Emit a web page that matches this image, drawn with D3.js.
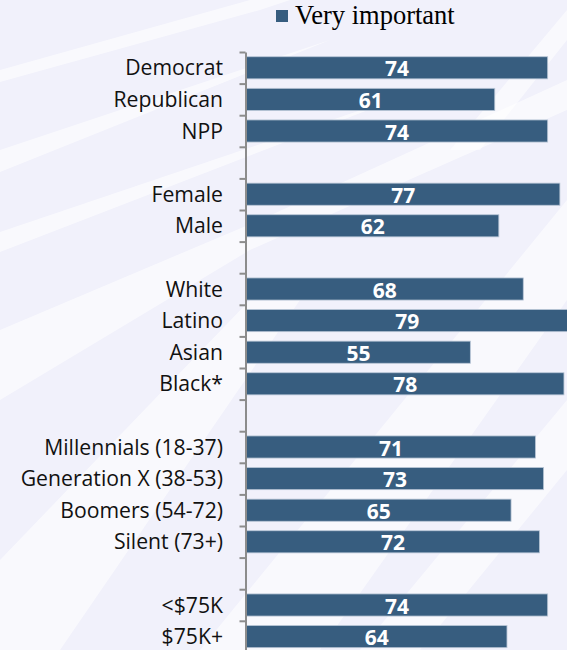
<!DOCTYPE html>
<html>
<head>
<meta charset="utf-8">
<script src="https://cdn.jsdelivr.net/npm/d3@7"></script>
<style>
  html, body { margin: 0; padding: 0; background: #f2f2fb; }
  svg { display: block; }
</style>
</head>
<body>
<svg id="chart" width="567" height="650"></svg>
<script>
// Share saying the issue is "Very important", by group (blank entries separate groups)
const categories = [
  "Democrat", "Republican", "NPP", "",
  "Female", "Male", "",
  "White", "Latino", "Asian", "Black*", "",
  "Millennials (18-37)", "Generation X (38-53)", "Boomers (54-72)", "Silent (73+)", "",
  "<$75K", "$75K+"
];
const values = [
  74, 61, 74, null,
  77, 62, null,
  68, 79, 55, 78, null,
  71, 73, 65, 72, null,
  74, 64
];
const seriesName = "Very important";

const W = 567, H = 650;
const svg = d3.select("#chart");
const barColor = "#375d7f";

// Soft background with pale diagonal streaks
const bg = svg.append("g");
bg.append("rect").attr("width", W).attr("height", H).attr("fill", "#f1f1fb");
const streaks = [
  [[0, 150], [0, 172], [330, 40], [360, 30]],
  [[0, 232], [0, 252], [420, 90], [450, 80]],
  [[0, 70], [0, 82], [260, 10], [290, 0], [250, 0]],
  [[0, 330], [0, 400], [250, 250], [567, 110], [567, 80], [260, 220]],
  [[0, 560], [0, 650], [60, 650], [300, 300], [250, 300]],
  [[200, 650], [320, 650], [567, 300], [567, 200]],
  [[450, 150], [480, 150], [567, 40], [567, 10]],
  [[360, 650], [420, 650], [567, 470], [567, 400]]
];
bg.selectAll("path.streak").data(streaks).join("path")
  .attr("class", "streak")
  .attr("d", d => d3.line().curve(d3.curveLinearClosed)(d))
  .attr("fill", "#ffffff").attr("opacity", 0.6);

// Scales
const x = d3.scaleLinear().domain([0, 100]).range([246.5, 653.5]);
const y = d3.scaleBand()
  .domain(d3.range(categories.length))
  .range([52, 652.4])
  .paddingInner(0.3)
  .paddingOuter(0.15);
const slot = d3.scaleLinear().domain([0, categories.length]).range([52, 652.4]);

// Bars
const rows = categories.map((c, i) => ({ c, v: values[i], i })).filter(d => d.v != null);
svg.append("g").selectAll("rect").data(rows).join("rect")
  .attr("x", x(0))
  .attr("y", d => y(d.i))
  .attr("width", d => x(d.v) - x(0))
  .attr("height", y.bandwidth())
  .attr("fill", barColor)
  .attr("stroke", "#b9c6d6")
  .attr("stroke-width", 0.8);

// Value labels centred in each bar
svg.append("g").selectAll("text").data(rows).join("text")
  .attr("x", d => (x(0) + x(d.v)) / 2)
  .attr("y", d => y(d.i) + y.bandwidth() / 2 + 8.5)
  .attr("text-anchor", "middle")
  .attr("font-family", "'Open Sans', sans-serif")
  .attr("font-weight", "bold")
  .attr("font-size", 21)
  .attr("fill", "#ffffff")
  .text(d => d.v);

// Category axis: line with ticks between slots
const axis = d3.axisLeft(slot)
  .tickValues(d3.range(categories.length + 1))
  .tickFormat("")
  .tickSize(6)
  .tickSizeOuter(0);
const ax = svg.append("g").attr("transform", `translate(${x(0) - 1},0)`).call(axis);
ax.select(".domain").attr("stroke", "#8c8c8c").attr("stroke-width", 2);
ax.selectAll(".tick line").attr("stroke", "#8c8c8c").attr("stroke-width", 2);

// Category labels
svg.append("g").selectAll("text").data(rows).join("text")
  .attr("x", 223)
  .attr("y", d => y(d.i) + y.bandwidth() / 2 + 7.5)
  .attr("text-anchor", "end")
  .attr("font-family", "'Open Sans', sans-serif")
  .attr("font-size", 21.2)
  .attr("fill", "#111111")
  .text(d => d.c);

// Legend
const lg = svg.append("g");
lg.append("rect").attr("x", 276).attr("y", 10).attr("width", 12).attr("height", 12).attr("fill", barColor);
lg.append("text")
  .attr("x", 295).attr("y", 24)
  .attr("font-family", "'Liberation Serif', 'Times New Roman', serif")
  .attr("font-size", 26.5)
  .attr("fill", "#000000")
  .text(seriesName);
</script>
</body>
</html>
